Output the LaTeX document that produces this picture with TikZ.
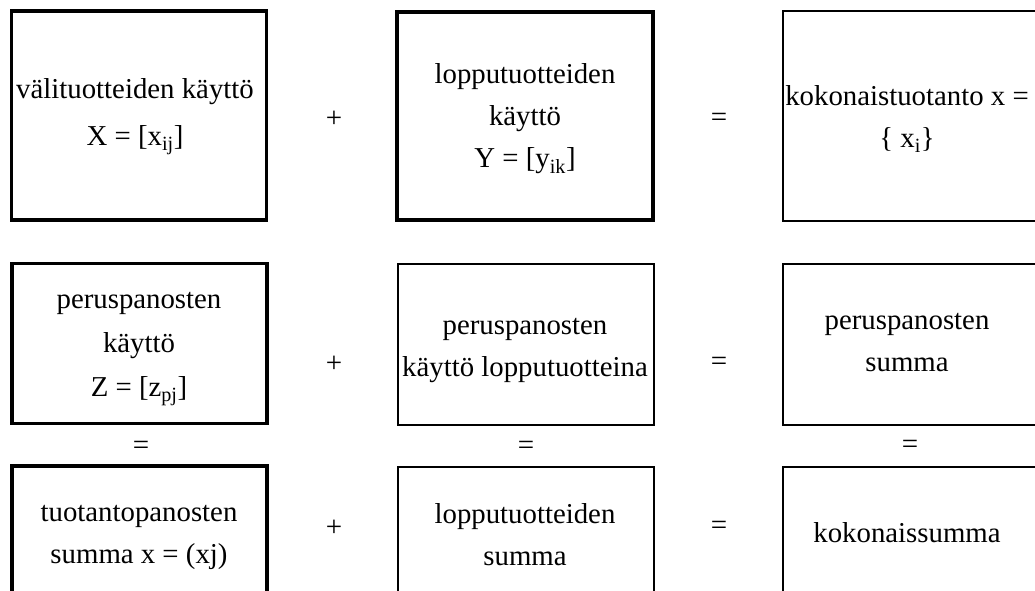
\documentclass[tikz,border=0pt]{standalone}
\usepackage{fontspec}
\setmainfont{Liberation Serif}
\begin{document}
\begin{tikzpicture}[x=1pt,y=-1pt,
  thinbox/.style={draw, line width=1.6pt, inner sep=0pt},
  thickbox/.style={draw, line width=3.6pt, inner sep=0pt},
  txt/.style={align=center, inner sep=0pt, font=\fontsize{28.8}{42}\selectfont},
  op/.style={inner sep=0pt, font=\fontsize{29}{30}\selectfont}]
\useasboundingbox (0,0) rectangle (1035,590);
\fill[white] (0,0) rectangle (1035,590);
% row 1
\node[thickbox, minimum width=255pt, minimum height=209pt] (b1) at (139,115.5) {};
\node[thickbox, minimum width=256pt, minimum height=208pt] (b2) at (525,116) {};
\node[thinbox, minimum width=262pt, minimum height=210pt] (b3) at (914,116) {};
\node[txt] (t1) at (135,117) {välituotteiden käyttö\\[5pt]X = [x\textsubscript{ij}]};
\node[txt] (t2) at (525,119) {lopputuotteiden\\käyttö\\Y = [y\textsubscript{ik}]};
\node[txt] (t3) at (907,119) {kokonaistuotanto x =\\\{ x\textsubscript{i}\}};
% row 2
\node[thickbox, minimum width=255pt, minimum height=160pt] (b4) at (139.5,343.5) {};
\node[thinbox, minimum width=256pt, minimum height=161pt] (b5) at (526,344.5) {};
\node[thinbox, minimum width=262pt, minimum height=161pt] (b6) at (914,344.5) {};
\node[txt] (t4) at (139,349) {peruspanosten\\[2pt]käyttö\\[2pt]Z = [z\textsubscript{pj}]};
\node[txt] (t5) at (525,350) {peruspanosten\\käyttö lopputuotteina};
\node[txt] (t6) at (907,343) {peruspanosten\\summa};
% row 3
\node[thickbox, minimum width=255pt, minimum height=136pt] (b7) at (139.5,534) {};
\node[thinbox, minimum width=256pt, minimum height=134pt] (b8) at (526,534) {};
\node[thinbox, minimum width=262pt, minimum height=134pt] (b9) at (914,534) {};
\node[txt] (t7) at (139,537) {tuotantopanosten\\summa x = (xj)};
\node[txt] (t8) at (525,535) {lopputuotteiden\\summa};
\node[txt] (t9) at (907,533) {kokonaissumma};
% operators
\node[op] (p1) at (334,119) {+};
\node[op] (e1) at (719,120) {=};
\node[op] (p2) at (334,364) {+};
\node[op] (e2) at (719,364) {=};
\node[op] (p3) at (334,528) {+};
\node[op] (e3) at (719,528) {=};
\node[op] (v1) at (141,448) {=};
\node[op] (v2) at (526,448) {=};
\node[op] (v3) at (910,447) {=};
\end{tikzpicture}
\end{document}
